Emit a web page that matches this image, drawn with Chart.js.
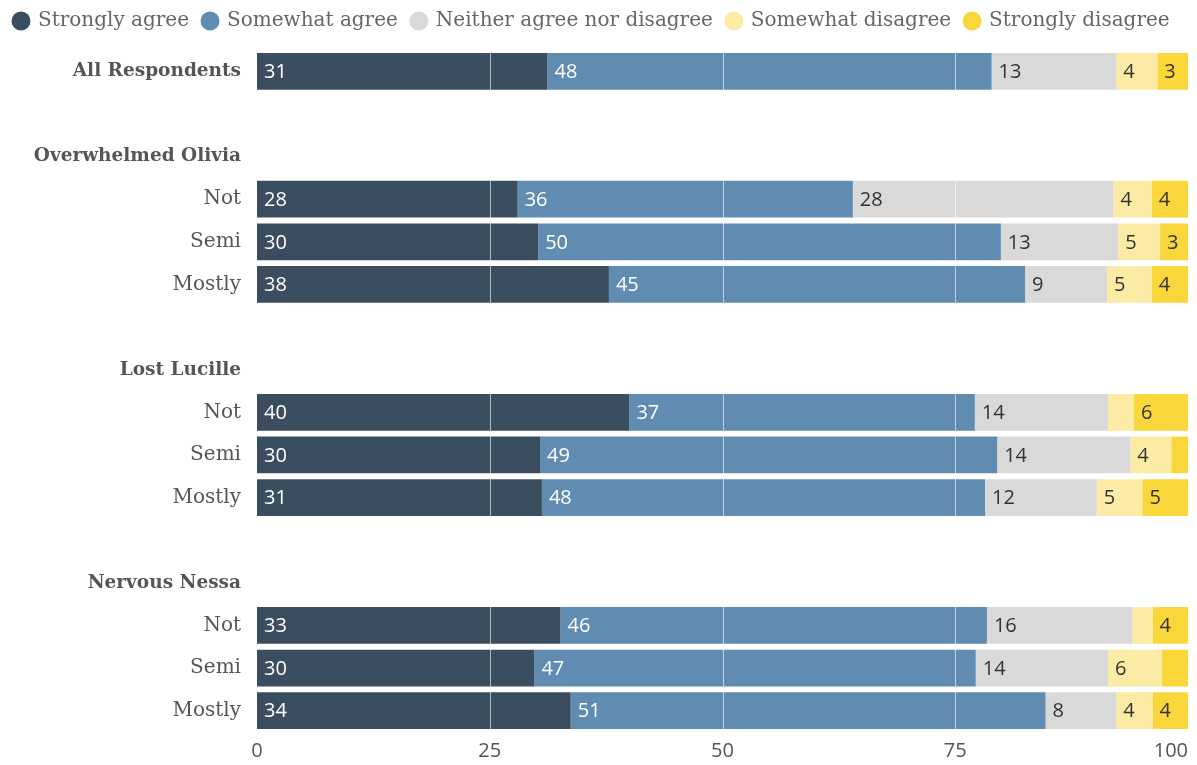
<!DOCTYPE html>
<html>
<head>
<meta charset="utf-8">
<title>Agreement by persona</title>
<script src="https://cdn.jsdelivr.net/npm/chart.js@4.4.1/dist/chart.umd.min.js"></script>
<style>
  html, body { margin: 0; padding: 0; background: #fff; }
  #wrap { position: relative; width: 1197px; height: 765px; }
</style>
</head>
<body>
<div id="wrap"><canvas id="likertChart"></canvas></div>
<script>
// Rows of the chart; empty strings are spacer rows between groups
const rowLabels = ['All Respondents', '', 'Overwhelmed Olivia', 'Not', 'Semi', 'Mostly', '',
  'Lost Lucille', 'Not', 'Semi', 'Mostly', '', 'Nervous Nessa', 'Not', 'Semi', 'Mostly'];
const headerRows = [0, 2, 7, 12];

const responseNames = ['Strongly agree', 'Somewhat agree', 'Neither agree nor disagree',
  'Somewhat disagree', 'Strongly disagree'];

// Percent of respondents per answer (null = no bar on that row)
const stronglyAgree    = [31.2, null, null, 28.0, 30.2, 37.8, null, null, 40.0, 30.4, 30.6, null, null, 32.6, 29.8, 33.7];
const somewhatAgree    = [47.7, null, null, 36.0, 49.7, 44.7, null, null, 37.1, 49.1, 47.6, null, null, 45.8, 47.4, 51.0];
const neither          = [13.4, null, null, 28.0, 12.6, 8.8, null, null, 14.3, 14.3, 12.0, null, null, 15.6, 14.2, 7.6];
const somewhatDisagree = [4.4, null, null, 4.1, 4.5, 4.8, null, null, 2.8, 4.4, 4.9, null, null, 2.2, 5.8, 3.9];
const stronglyDisagree = [3.3, null, null, 3.9, 3.0, 3.9, null, null, 5.8, 1.8, 4.9, null, null, 3.8, 2.8, 3.8];

const xTicks = [0, 25, 50, 75, 100];

const seriesColors = ['#3b4e60', '#608cb2', '#d9d9d9', '#fceba4', '#f9d63a'];
const labelColors = ['#ffffff', '#ffffff', '#333333', '#333333', '#333333'];

const serifFont = '"DejaVu Serif", serif';
const sansFont = '"Open Sans", sans-serif';

const allSeries = [stronglyAgree, somewhatAgree, neither, somewhatDisagree, stronglyDisagree];

// Legend gets a little extra space underneath it
const legendSpacer = {
  id: 'legendSpacer',
  beforeInit(chart) {
    const fitLegend = chart.legend.fit;
    chart.legend.fit = function () {
      fitLegend.call(this);
      this.height += 9;
    };
  }
};

// White vertical guides drawn over the bars, then the value labels
const overlayPlugin = {
  id: 'overlay',
  afterDatasetsDraw(chart) {
    const { ctx, chartArea } = chart;
    const xScale = chart.scales.x;
    ctx.save();
    ctx.strokeStyle = 'rgba(255,255,255,0.6)';
    ctx.lineWidth = 1;
    xTicks.slice(1, -1).forEach(v => {
      const px = Math.round(xScale.getPixelForValue(v)) + 0.5;
      ctx.beginPath();
      ctx.moveTo(px, chartArea.top);
      ctx.lineTo(px, chartArea.bottom);
      ctx.stroke();
    });

    ctx.font = '20px ' + sansFont;
    ctx.textBaseline = 'middle';
    ctx.textAlign = 'left';
    chart.data.datasets.forEach((ds, i) => {
      const meta = chart.getDatasetMeta(i);
      meta.data.forEach((bar, j) => {
        const v = ds.data[j];
        if (v == null || v < 3) return;
        ctx.fillStyle = labelColors[i];
        ctx.fillText(String(Math.round(v)), bar.base + 7, bar.y + 1);
      });
    });

    // x axis labels; the last one sits flush with the right edge
    ctx.fillStyle = '#555';
    xTicks.forEach((v, k) => {
      ctx.textAlign = k === xTicks.length - 1 ? 'right' : 'center';
      ctx.fillText(String(v), xScale.getPixelForValue(v), chartArea.bottom + 19);
    });
    ctx.restore();
  }
};

new Chart(document.getElementById('likertChart'), {
  type: 'bar',
  data: {
    labels: rowLabels,
    datasets: allSeries.map((data, i) => ({
      label: responseNames[i],
      data: data,
      backgroundColor: seriesColors[i],
      borderWidth: 0,
      barPercentage: 0.86,
      categoryPercentage: 1
    }))
  },
  options: {
    indexAxis: 'y',
    responsive: true,
    maintainAspectRatio: false,
    animation: false,
    layout: { padding: { left: 0, right: 0, top: -6, bottom: 0 } },
    plugins: {
      tooltip: { enabled: false },
      legend: {
        position: 'top',
        align: 'start',
        labels: {
          usePointStyle: true,
          pointStyle: 'circle',
          boxWidth: 14,
          boxHeight: 13.4,
          padding: 14,
          color: '#666',
          font: { family: serifFont, size: 20 }
        }
      }
    },
    scales: {
      x: {
        stacked: true,
        min: 0,
        max: 100,
        grid: { display: false },
        border: { display: false },
        ticks: { display: false },
        // room for the hand-drawn tick labels, and a small gap on the right
        afterFit(scale) {
          scale.height = 33;
          scale.paddingRight = 9;
        }
      },
      y: {
        stacked: true,
        grid: { display: false },
        border: { display: false },
        afterFit(scale) {
          scale.width = 257;
          scale.paddingTop = 50;
        },
        ticks: {
          padding: 8,
          color: '#555',
          font: (ctx) => headerRows.includes(ctx.index)
            ? { family: serifFont, size: 18.5, weight: 'bold' }
            : { family: serifFont, size: 20 }
        }
      }
    }
  },
  plugins: [legendSpacer, overlayPlugin]
});
</script>
</body>
</html>
